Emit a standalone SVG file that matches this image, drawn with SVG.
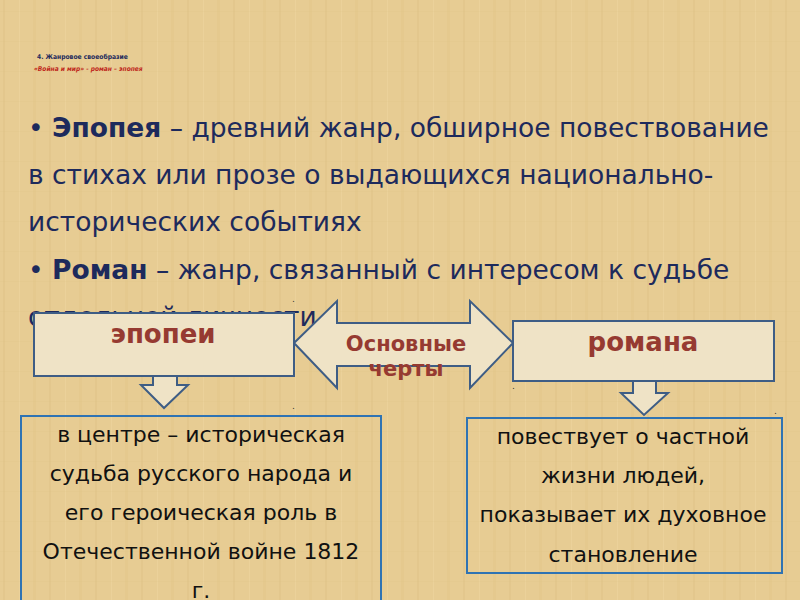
<svg xmlns="http://www.w3.org/2000/svg" width="800" height="600" viewBox="0 0 800 600">
<defs>
<pattern id="tex" width="46" height="30" patternUnits="userSpaceOnUse">
<rect width="46" height="30" fill="#e7cc93"/>
<rect x="3" width="2" height="30" fill="#d6b677" opacity="0.22"/>
<rect x="19" width="1" height="30" fill="#f0d9a6" opacity="0.4"/>
<rect x="33" width="3" height="30" fill="#d4b274" opacity="0.15"/>
<rect y="11" width="46" height="1" fill="#dbbd80" opacity="0.12"/>
</pattern>
<style>
.title{font-family:"DejaVu Sans Condensed","DejaVu Sans",sans-serif;font-stretch:condensed;font-weight:bold}
.body{font-family:"DejaVu Sans",sans-serif;font-size:26.5px;fill:#1d2a5c}
.b{font-weight:bold}
.shape{fill:#efe3c6;stroke:#3e5d85;stroke-width:2}
.lbl{font-family:"DejaVu Sans",sans-serif;font-weight:bold;fill:#963a31;text-anchor:middle}
.frame{fill:none;stroke:#2f73b3;stroke-width:2}
.desc{font-family:"DejaVu Sans",sans-serif;font-size:22px;fill:#111;text-anchor:middle}
.dot{font-family:"DejaVu Sans",sans-serif;font-size:9px;fill:#333}
</style>
</defs>
<rect width="800" height="600" fill="url(#tex)"/>

<g id="title">
<text class="title" x="37" y="59" font-size="6.7" fill="#1d2a5c">4. Жанровое своеобразие</text>
<text class="title" x="34" y="71" font-size="6.6" fill="#c0281c" font-style="italic">«Война и мир» - роман – эпопея</text>
</g>

<g id="definitions">
<text class="body" x="28" y="137">• <tspan class="b">Эпопея</tspan> – древний жанр, обширное повествование</text>
<text class="body" x="28" y="184">в стихах или прозе о выдающихся национально-</text>
<text class="body" x="28" y="231">исторических событиях</text>
<text class="body" x="28" y="279">• <tspan class="b">Роман</tspan> – жанр, связанный с интересом к судьбе</text>
<text class="body" x="28" y="326">отдельной личности</text>
</g>

<g id="connectors">
<path id="arrow-both" class="shape" d="M294,343 L337,301 L337,323 L470,323 L470,301 L513,343 L470,388 L470,366 L337,366 L337,388 Z"/>
<path id="arrow-left-down" class="shape" d="M153,370 L177,370 L177,385 L188,385 L164,408 L141,385 L153,385 Z"/>
<path id="arrow-right-down" class="shape" d="M633,375 L656,375 L656,393 L668,393 L644,415 L621,393 L633,393 Z"/>
</g>
<text class="lbl" x="406" y="351" font-size="21">Основные</text>
<text class="lbl" x="406" y="376" font-size="21">черты</text>

<g id="epic">
<rect class="shape" x="34" y="313" width="260" height="63"/>
<text class="lbl" x="163" y="343" font-size="26">эпопеи</text>
</g>

<g id="novel">
<rect class="shape" x="513" y="321" width="261" height="60"/>
<text class="lbl" x="643" y="351" font-size="26">романа</text>
</g>

<g id="epic-desc">
<rect class="frame" x="21" y="416" width="360" height="200"/>
<text class="desc" x="201" y="442">в центре – историческая</text>
<text class="desc" x="201" y="481">судьба русского народа и</text>
<text class="desc" x="201" y="520">его героическая роль в</text>
<text class="desc" x="201" y="559">Отечественной войне 1812</text>
<text class="desc" x="201" y="598">г.</text>
</g>

<g id="novel-desc">
<rect class="frame" x="467" y="418" width="315" height="155"/>
<text class="desc" x="623" y="444">повествует о частной</text>
<text class="desc" x="623" y="483">жизни людей,</text>
<text class="desc" x="623" y="522">показывает их духовное</text>
<text class="desc" x="623" y="562">становление</text>
</g>

<g id="marks">
<text class="dot" x="292" y="302">.</text>
<text class="dot" x="292" y="409">.</text>
<text class="dot" x="512" y="389">.</text>
<text class="dot" x="774" y="414">.</text>
</g>
</svg>
